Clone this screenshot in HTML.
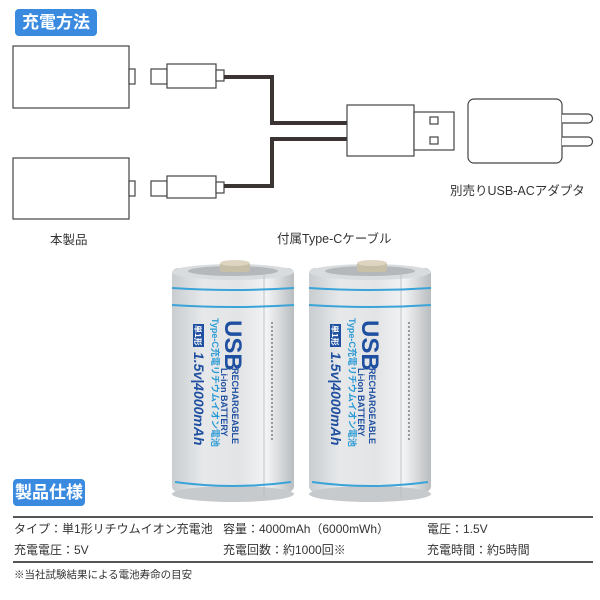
<!DOCTYPE html>
<html><head><meta charset="utf-8"><style>
body{margin:0;background:#fff;width:600px;height:600px;overflow:hidden;position:relative;font-family:"Liberation Sans","Noto Sans CJK JP",sans-serif;color:#333}
.lab{position:absolute;background:#3a8be0;color:#fff;font-weight:bold;border-radius:4px;font-size:17px;text-align:center;line-height:27px}
.t{position:absolute;font-size:12px;white-space:nowrap;color:#333}
.hr{position:absolute;left:13px;width:580px;height:1.5px;background:#555}
</style></head><body>
<div class="lab" style="left:15px;top:9px;width:82px;height:27px">充電方法</div>
<svg width="600" height="600" style="position:absolute;left:0;top:0">
<defs>
<linearGradient id="bg" x1="0" x2="1" y1="0" y2="0">
<stop offset="0" stop-color="#c9cdd0"/><stop offset="0.25" stop-color="#e6e8ea"/><stop offset="0.55" stop-color="#e2e4e6"/><stop offset="0.78" stop-color="#f2f3f4"/><stop offset="1" stop-color="#b9bdc0"/></linearGradient>
</defs>
<g fill="#fff" stroke="#444" stroke-width="1.2">
<rect x="13" y="46" width="116" height="62"/>
<rect x="129" y="69" width="6" height="15"/>
<rect x="151" y="69" width="16" height="15"/>
<rect x="167" y="64" width="49" height="24"/>
<rect x="216" y="70" width="8" height="11"/>
<rect x="13" y="158" width="116" height="61"/>
<rect x="129" y="181" width="6" height="15"/>
<rect x="151" y="181" width="16" height="15"/>
<rect x="167" y="176" width="49" height="22"/>
<rect x="216" y="182" width="8" height="11"/>
</g>
<g fill="none" stroke="#3a3533" stroke-width="4">
<polyline points="224,77 272,77 272,123 347,123"/>
<polyline points="224,186 272,186 272,139 347,139"/>
</g>
<g fill="#fff" stroke="#444" stroke-width="1.2">
<rect x="347" y="105" width="67" height="51"/>
<rect x="414" y="112" width="40" height="38"/>
<rect x="430" y="117" width="8" height="7"/>
<rect x="430" y="137" width="8" height="7"/>
<rect x="468" y="99" width="94" height="64" rx="6"/>
<path d="M562 114 H588 a3 3 0 0 1 0 9 H562"/>
<path d="M562 137 H588 a3 3 0 0 1 0 9 H562"/>
</g>
<g id="bat">
<rect x="172" y="268" width="122" height="224" rx="6" fill="url(#bg)"/>
<ellipse cx="233" cy="494" rx="61" ry="8" fill="#c6cacd"/>
<ellipse cx="233" cy="272" rx="61" ry="8" fill="#d9dcde"/>
<ellipse cx="233" cy="271" rx="45" ry="5" fill="#b5b8ba"/>
<rect x="220" y="262" width="30" height="10" rx="3" fill="#c8bfa8"/>
<ellipse cx="235" cy="263" rx="15" ry="3" fill="#ddd5c2"/>
<line x1="264" y1="272" x2="264" y2="498" stroke="#b8bcbf" stroke-width="0.8"/>
<path d="M172 288 Q233 292 294 288" stroke="#3aa3d8" stroke-width="2" fill="none"/>
<path d="M172 305 Q233 309 294 305" stroke="#3aa3d8" stroke-width="2" fill="none"/>
<path d="M175 482 Q233 490 291 482" stroke="#3aa3d8" stroke-width="2" fill="none"/>
<text transform="translate(225,320) rotate(90)" font-family="Liberation Sans" font-weight="bold" font-size="24" fill="#1f4fa0">USB</text>
<text transform="translate(232,368) rotate(90)" font-family="Liberation Sans" font-weight="bold" font-size="9" fill="#1f4fa0">RECHARGEABLE</text>
<text transform="translate(221,368) rotate(90)" font-family="Liberation Sans" font-weight="bold" font-size="9" fill="#1f4fa0">Li-ion BATTERY</text>
<text transform="translate(212,318) rotate(90)" font-family="Liberation Sans,Noto Sans CJK JP" font-weight="bold" font-size="9" fill="#2a9ad5">Type-C充電リチウムイオン電池</text>
<rect x="193" y="324" width="11" height="23" fill="#1f4fa0"/>
<text transform="translate(195,325) rotate(90)" font-family="Noto Sans CJK JP" font-weight="bold" font-size="8" fill="#fff">単1形</text>
<text transform="translate(194,352) rotate(90)" font-family="Liberation Sans" font-weight="bold" font-style="italic" font-size="14" fill="#1f4fa0">1.5v|4000mAh</text>
<line x1="272" y1="322" x2="272" y2="440" stroke="#999" stroke-width="2" stroke-dasharray="2,2"/>
</g>
<use href="#bat" transform="translate(137,0)"/>
</svg>
<div class="t" style="left:450px;top:180px;font-size:12.5px">別売りUSB-ACアダプタ</div>
<div class="t" style="left:277px;top:228px;font-size:12.5px">付属Type-Cケーブル</div>
<div class="t" style="left:50px;top:229px;font-size:12.5px">本製品</div>
<div class="lab" style="left:13px;top:479px;width:72px;height:27px">製品仕様</div>
<div class="hr" style="top:516px"></div>
<div class="t" style="left:14px;top:520px">タイプ：単1形リチウムイオン充電池</div>
<div class="t" style="left:223px;top:520px">容量：4000mAh（6000mWh）</div>
<div class="t" style="left:427px;top:520px">電圧：1.5V</div>
<div class="t" style="left:14px;top:541px">充電電圧：5V</div>
<div class="t" style="left:223px;top:541px">充電回数：約1000回※</div>
<div class="t" style="left:427px;top:541px">充電時間：約5時間</div>
<div class="hr" style="top:561px"></div>
<div class="t" style="left:14px;top:567px;font-size:10.5px">※当社試験結果による電池寿命の目安</div>
</body></html>
